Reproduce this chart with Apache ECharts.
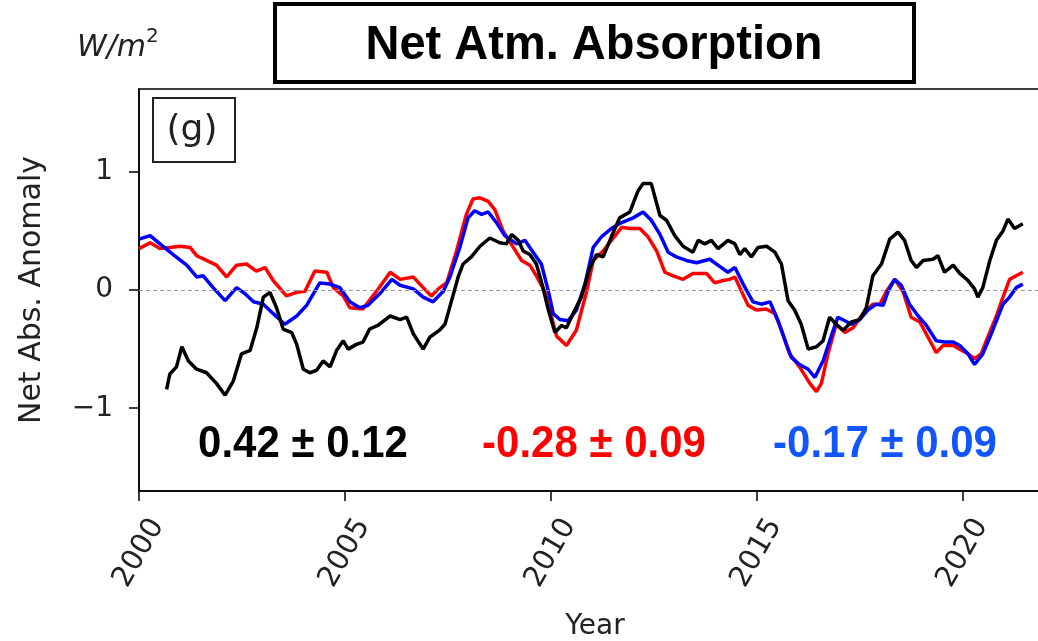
<!DOCTYPE html>
<html>
<head>
<meta charset="utf-8">
<title>Net Atm. Absorption</title>
<script src="https://cdn.jsdelivr.net/npm/echarts@6/dist/echarts.min.js"></script>
<style>
  html, body { margin: 0; padding: 0; background: #fff; }
  #chart { width: 1038px; height: 641px; }
</style>
</head>
<body>
<div id="chart"></div>
<script>
// Net atmospheric absorption anomaly (W/m^2), running means per dataset
const yearsBlack = [2000.67,2000.75,2000.91,2001.04,2001.2,2001.4,2001.64,2001.88,2002.09,2002.29,2002.49,2002.7,2002.86,2003.02,2003.18,2003.34,2003.5,2003.71,2003.83,2003.99,2004.15,2004.31,2004.47,2004.64,2004.8,2004.96,2005.08,2005.28,2005.44,2005.6,2005.8,2006.1,2006.34,2006.5,2006.66,2006.9,2007.06,2007.3,2007.43,2007.59,2007.75,2007.87,2008.07,2008.28,2008.52,2008.76,2008.92,2009.05,2009.21,2009.33,2009.49,2009.65,2009.81,2009.94,2010.1,2010.26,2010.38,2010.54,2010.74,2010.95,2011.11,2011.27,2011.47,2011.67,2011.92,2012.12,2012.24,2012.44,2012.65,2012.81,2013.01,2013.21,2013.45,2013.58,2013.74,2013.9,2014.06,2014.3,2014.47,2014.59,2014.71,2014.87,2015.03,2015.24,2015.44,2015.6,2015.76,2015.92,2016.08,2016.25,2016.45,2016.61,2016.77,2016.93,2017.1,2017.3,2017.5,2017.66,2017.82,2018.03,2018.23,2018.43,2018.59,2018.75,2018.88,2019.04,2019.28,2019.4,2019.56,2019.77,2019.93,2020.13,2020.29,2020.37,2020.49,2020.66,2020.82,2020.98,2021.1,2021.26,2021.46];
const valuesBlack = [-0.84,-0.71,-0.65,-0.48,-0.60,-0.67,-0.70,-0.79,-0.89,-0.77,-0.54,-0.51,-0.32,-0.06,-0.02,-0.15,-0.33,-0.36,-0.46,-0.67,-0.70,-0.68,-0.60,-0.65,-0.51,-0.43,-0.50,-0.46,-0.44,-0.33,-0.30,-0.22,-0.25,-0.23,-0.37,-0.50,-0.40,-0.34,-0.29,-0.09,0.11,0.22,0.28,0.37,0.44,0.40,0.39,0.47,0.42,0.33,0.30,0.22,0.02,-0.17,-0.36,-0.30,-0.32,-0.20,-0.06,0.19,0.30,0.28,0.45,0.61,0.66,0.84,0.90,0.90,0.63,0.59,0.46,0.37,0.32,0.42,0.39,0.42,0.35,0.42,0.39,0.30,0.35,0.28,0.36,0.37,0.32,0.22,-0.09,-0.17,-0.29,-0.50,-0.48,-0.43,-0.23,-0.29,-0.34,-0.27,-0.25,-0.15,0.12,0.22,0.43,0.49,0.42,0.25,0.19,0.25,0.26,0.29,0.15,0.21,0.14,0.08,0.01,-0.06,0.02,0.25,0.42,0.50,0.60,0.52,0.56];

const yearsRed = [2000.0,2000.27,2000.51,2000.75,2001.0,2001.24,2001.4,2001.64,2001.88,2002.13,2002.37,2002.61,2002.85,2003.06,2003.26,2003.58,2003.83,2004.03,2004.27,2004.56,2004.72,2004.96,2005.12,2005.44,2005.77,2006.1,2006.34,2006.66,2006.9,2007.1,2007.3,2007.47,2007.71,2007.95,2008.11,2008.28,2008.48,2008.64,2008.84,2009.09,2009.29,2009.49,2009.65,2009.85,2010.02,2010.14,2010.38,2010.62,2010.87,2011.03,2011.27,2011.47,2011.72,2011.92,2012.16,2012.36,2012.57,2012.77,2012.97,2013.21,2013.45,2013.78,2013.98,2014.18,2014.34,2014.47,2014.63,2014.79,2014.99,2015.23,2015.44,2015.6,2015.8,2016.04,2016.29,2016.45,2016.57,2016.73,2016.93,2017.14,2017.34,2017.58,2017.82,2017.99,2018.15,2018.35,2018.55,2018.75,2018.96,2019.16,2019.36,2019.52,2019.77,2019.93,2020.13,2020.29,2020.45,2020.62,2020.82,2020.98,2021.14,2021.3,2021.46];
const valuesRed = [0.35,0.40,0.35,0.36,0.37,0.36,0.29,0.25,0.21,0.11,0.21,0.22,0.16,0.19,0.08,-0.05,-0.02,-0.01,0.16,0.15,0.02,-0.05,-0.15,-0.16,-0.01,0.15,0.09,0.11,0.02,-0.05,0.02,0.06,0.33,0.64,0.77,0.78,0.75,0.68,0.50,0.36,0.25,0.21,0.12,-0.01,-0.23,-0.39,-0.47,-0.34,-0.01,0.25,0.33,0.42,0.53,0.52,0.52,0.45,0.33,0.15,0.12,0.09,0.14,0.14,0.06,0.08,0.09,0.11,-0.01,-0.13,-0.17,-0.16,-0.20,-0.34,-0.54,-0.65,-0.79,-0.86,-0.79,-0.54,-0.29,-0.36,-0.32,-0.20,-0.12,-0.12,-0.01,0.09,-0.01,-0.23,-0.27,-0.40,-0.53,-0.47,-0.47,-0.50,-0.54,-0.58,-0.54,-0.39,-0.22,-0.06,0.09,0.12,0.15];

const yearsBlue = [2000.0,2000.27,2000.51,2000.83,2001.16,2001.4,2001.56,2001.8,2002.09,2002.37,2002.57,2002.78,2003.02,2003.26,2003.54,2003.83,2004.07,2004.39,2004.64,2004.88,2005.12,2005.36,2005.56,2005.85,2006.14,2006.34,2006.66,2006.9,2007.14,2007.39,2007.55,2007.79,2007.99,2008.15,2008.32,2008.48,2008.68,2008.88,2009.17,2009.37,2009.57,2009.77,2009.94,2010.06,2010.22,2010.42,2010.62,2010.83,2011.03,2011.23,2011.47,2011.72,2012.0,2012.24,2012.44,2012.65,2012.85,2013.05,2013.29,2013.54,2013.86,2014.1,2014.3,2014.47,2014.67,2014.91,2015.11,2015.32,2015.52,2015.72,2015.84,2016.04,2016.25,2016.41,2016.61,2016.81,2016.97,2017.14,2017.3,2017.5,2017.7,2017.9,2018.07,2018.19,2018.35,2018.51,2018.71,2018.92,2019.12,2019.36,2019.56,2019.77,2019.93,2020.13,2020.29,2020.49,2020.66,2020.82,2020.98,2021.14,2021.3,2021.46];
const valuesBlue = [0.43,0.46,0.39,0.30,0.21,0.11,0.12,0.02,-0.09,0.02,-0.03,-0.10,-0.12,-0.20,-0.29,-0.22,-0.13,0.06,0.05,0.02,-0.10,-0.15,-0.13,-0.03,0.09,0.04,0.01,-0.06,-0.10,-0.01,0.11,0.36,0.61,0.67,0.64,0.66,0.57,0.46,0.39,0.42,0.32,0.22,-0.01,-0.20,-0.25,-0.26,-0.17,0.05,0.36,0.45,0.52,0.57,0.61,0.66,0.59,0.47,0.32,0.28,0.25,0.23,0.26,0.20,0.15,0.19,0.05,-0.10,-0.12,-0.10,-0.26,-0.46,-0.57,-0.63,-0.67,-0.74,-0.60,-0.39,-0.23,-0.26,-0.29,-0.25,-0.17,-0.12,-0.13,-0.01,0.09,0.04,-0.12,-0.22,-0.30,-0.43,-0.44,-0.44,-0.47,-0.54,-0.63,-0.54,-0.40,-0.26,-0.12,-0.06,0.02,0.05];

const xTickYears = [2000, 2005, 2010, 2015, 2020];
const yTickValues = [-1, 0, 1];

const statLabels = ['0.42 \u00b1 0.12', '-0.28 \u00b1 0.09', '-0.17 \u00b1 0.09'];
const statColors = ['#000000', '#ff0000', '#1155ff'];
const statCenters = [303, 594, 885];

const pair = (xs, ys) => xs.map((x, i) => [x, ys[i]]);
const minus = v => (v < 0 ? '\u2212' + Math.abs(v) : String(v));

const axisFont = "'DejaVu Sans', sans-serif";

const chart = echarts.init(document.getElementById('chart'), null, { renderer: 'canvas' });

const lineSeries = (name, data, color, z) => ({
  name,
  type: 'line',
  data,
  showSymbol: false,
  symbol: 'none',
  smooth: false,
  z,
  lineStyle: { color, width: 3.5 },
  emphasis: { disabled: true }
});

const redSeries = lineSeries('red', pair(yearsRed, valuesRed), '#ff0000', 3);
redSeries.markLine = {
  silent: true,
  symbol: 'none',
  label: { show: false },
  lineStyle: { color: '#9a9a9a', type: [4, 3], width: 1 },
  data: [{ yAxis: 0 }]
};

chart.setOption({
  animation: false,
  backgroundColor: '#ffffff',
  grid: {
    left: 139, top: 89, right: -7, bottom: 150,
    outerBoundsMode: 'none',
    containLabel: false,
    show: true, borderColor: '#000', borderWidth: 1.5, backgroundColor: 'transparent'
  },
  xAxis: {
    type: 'value',
    min: 2000,
    max: 2022,
    name: 'Year',
    nameLocation: 'middle',
    nameGap: 122,
    nameTextStyle: { fontFamily: axisFont, fontSize: 28, color: '#222', padding: [0, 0, 0, 6] },
    axisLine: { show: true, onZero: false, lineStyle: { color: '#000', width: 1.5 } },
    axisTick: { show: true, length: 10, customValues: xTickYears, lineStyle: { color: '#000', width: 1.5 } },
    axisLabel: {
      customValues: xTickYears,
      rotate: 60,
      align: 'center',
      verticalAlign: 'middle',
      margin: 62,
      fontFamily: axisFont,
      fontSize: 29,
      color: '#222',
      formatter: v => String(v)
    },
    splitLine: { show: false }
  },
  yAxis: {
    type: 'value',
    min: -1.7,
    max: 1.7,
    name: 'Net Abs. Anomaly',
    nameLocation: 'middle',
    nameRotate: 90,
    nameGap: 92,
    nameTextStyle: { fontFamily: axisFont, fontSize: 30, color: '#222' },
    axisLine: { show: true, onZero: false, lineStyle: { color: '#000', width: 1.5 } },
    axisTick: { show: true, length: 10, customValues: yTickValues, lineStyle: { color: '#000', width: 1.5 } },
    axisLabel: {
      customValues: yTickValues,
      margin: 26,
      fontFamily: axisFont,
      fontSize: 28,
      color: '#222',
      formatter: minus
    },
    splitLine: { show: false }
  },
  series: [
    redSeries,
    lineSeries('blue', pair(yearsBlue, valuesBlue), '#0000ff', 4),
    lineSeries('black', pair(yearsBlack, valuesBlack), '#000000', 5)
  ],
  graphic: [
    // panel title box
    {
      type: 'rect',
      shape: { x: 275, y: 4, width: 639, height: 78 },
      style: { fill: '#fff', stroke: '#000', lineWidth: 4 },
      z: 10
    },
    {
      type: 'text',
      x: 594, y: 46,
      scaleY: 1.04,
      style: {
        text: 'Net Atm. Absorption',
        font: "bold 47px 'Liberation Sans', Arial, sans-serif",
        fill: '#000', align: 'center', verticalAlign: 'middle'
      },
      z: 11
    },
    // unit label
    {
      type: 'text',
      x: 77, y: 45,
      style: {
        text: '{u|W/m}{s|2}',
        rich: {
          u: { fontFamily: axisFont, fontStyle: 'italic', fontSize: 30, fill: '#222', verticalAlign: 'bottom', lineHeight: 36 },
          s: { fontFamily: axisFont, fontSize: 20, fill: '#222', verticalAlign: 'top', lineHeight: 36, padding: [0, 0, 12, 0] }
        },
        verticalAlign: 'middle'
      },
      z: 11
    },
    // panel tag
    {
      type: 'rect',
      shape: { x: 153, y: 98, width: 82, height: 64 },
      style: { fill: '#fff', stroke: '#222', lineWidth: 2 },
      z: 10
    },
    {
      type: 'text',
      x: 192, y: 131,
      style: {
        text: '(g)',
        font: "36px 'DejaVu Sans', sans-serif",
        fill: '#222', align: 'center', verticalAlign: 'middle'
      },
      z: 11
    },
    ...statLabels.map((t, i) => ({
      type: 'text',
      x: statCenters[i], y: 445,
      scaleY: 1.05,
      style: {
        text: t,
        font: "bold 42px 'Liberation Sans', Arial, sans-serif",
        fill: statColors[i], align: 'center', verticalAlign: 'middle'
      },
      z: 11
    }))
  ]
});
</script>
</body>
</html>
